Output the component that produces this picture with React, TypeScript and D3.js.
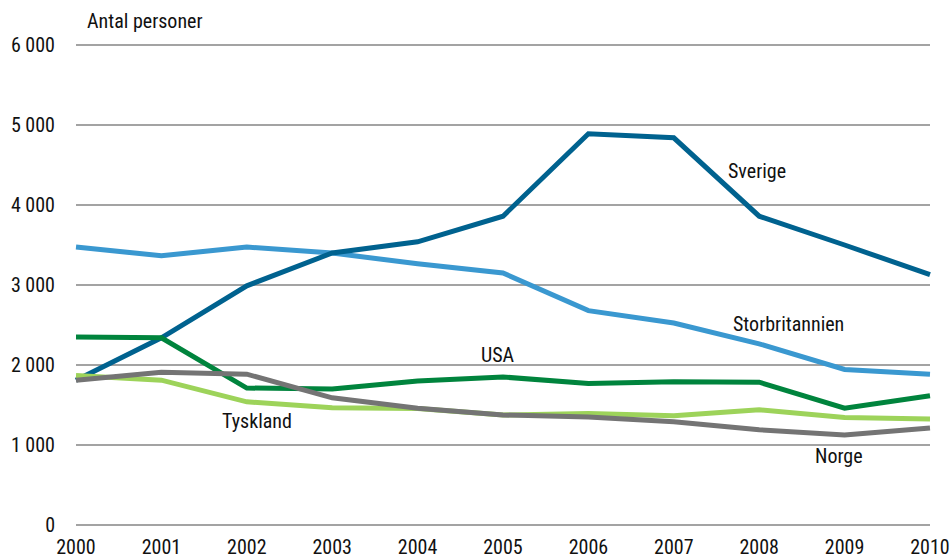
import * as d3 from 'd3';

const years = [2000, 2001, 2002, 2003, 2004, 2005, 2006, 2007, 2008, 2009, 2010];
const yTicks = [0, 1000, 2000, 3000, 4000, 5000, 6000];

const sverige = [1810, 2340, 2990, 3400, 3540, 3860, 4890, 4840, 3860, 3500, 3130];
const storbritannien = [3475, 3365, 3475, 3400, 3265, 3150, 2680, 2525, 2265, 1945, 1885];
const usa = [2350, 2340, 1712, 1700, 1800, 1850, 1770, 1790, 1785, 1460, 1615];
const tyskland = [1870, 1810, 1540, 1465, 1455, 1375, 1395, 1365, 1440, 1345, 1325];
const norge = [1810, 1910, 1885, 1590, 1460, 1375, 1350, 1290, 1190, 1125, 1212];

const series = [
  { name: 'Storbritannien', values: storbritannien, color: '#3a98d0', lx: 733, ly: 324 },
  { name: 'Sverige', values: sverige, color: '#00628f', lx: 728, ly: 171 },
  { name: 'Tyskland', values: tyskland, color: '#9dd35a', lx: 222, ly: 421 },
  { name: 'USA', values: usa, color: '#00843d', lx: 481, ly: 355 },
  { name: 'Norge', values: norge, color: '#747474', lx: 815, ly: 456 },
];

const font = '"Liberation Sans Narrow", "Roboto Condensed", Roboto, sans-serif';

export default function App() {
  const width = 951;
  const height = 558;
  const x = d3.scaleLinear().domain([2000, 2010]).range([76, 930]);
  const y = d3.scaleLinear().domain([0, 6000]).range([525, 45]);

  const line = d3
    .line<number>()
    .x((d, i) => x(years[i]))
    .y((d) => y(d));

  return (
    <svg
      width={width}
      height={height}
      style={{ position: 'absolute', left: 0, top: 0, background: '#fff' }}
      fontFamily={font}
    >
      <text x={87} y={28} fontSize={20} fill='#111'>
        Antal personer
      </text>
      {yTicks.map((t) => (
        <g key={t}>
          <line x1={76} x2={930} y1={y(t)} y2={y(t)} stroke='#a3a3a3' strokeWidth={2} />
          <text x={55} y={y(t)} dy='0.35em' textAnchor='end' fontSize={20} fill='#111'>
            {d3.format(',')(t).replace(/,/g, ' ')}
          </text>
        </g>
      ))}
      {years.map((yr) => (
        <text key={yr} x={x(yr)} y={554} textAnchor='middle' fontSize={20} fill='#111'>
          {yr}
        </text>
      ))}
      {series.map((s) => (
        <path
          key={s.name}
          d={line(s.values) || ''}
          fill='none'
          stroke={s.color}
          strokeWidth={5}
          strokeLinejoin='miter'
        />
      ))}
      {series.map((s) => (
        <text key={s.name + '-l'} x={s.lx} y={s.ly} dy='0.35em' fontSize={20} fill='#111'>
          {s.name}
        </text>
      ))}
    </svg>
  );
}
